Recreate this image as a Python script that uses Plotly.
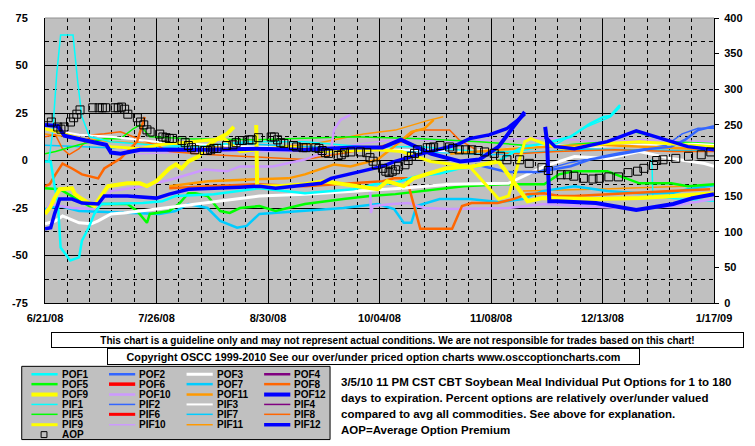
import plotly.graph_objects as go

# ---------------- data ----------------
date_labels = ["6/21/08", "7/26/08", "8/30/08", "10/04/08", "11/08/08", "12/13/08", "1/17/09"]
tick_days = [0, 35, 70, 105, 140, 175, 210]           # days since 6/21/08
left_ticks = [75, 50, 25, 0, -25, -50, -75]
right_ticks = [400, 350, 300, 250, 200, 150, 100, 50, 0]

pof1_days = [0, 1.8, 3, 4, 4.9, 7.9, 10.7, 11.6, 13.7, 15.5, 17.6, 30.7, 36.8, 41, 53, 61.2, 67.3, 81.6, 96.8, 103.5, 109.6, 116.6, 123.9, 130, 136, 142, 146, 150, 156.7, 165, 171, 175.3, 177.4, 180.5]
pof1_vals = [-0.5, -0.5, -13.5, -21.4, -45.8, -52.6, -51, -42.2, -35.4, -28.1, -22.9, -22.4, -21.4, -18.7, -17.7, -16.1, -14.6, -17.2, -15.1, -12.5, -12, -8.3, -6.8, -4.2, -3.1, -0.5, 3.6, 7.3, 8.8, 12.5, 19.3, 22.9, 23.4, 29.2]

pif1_days = [0, 1.2, 2.4, 3.7, 4.9, 8.8, 10.3, 11.6, 14, 20.7, 32.9, 48, 63, 81.5, 100, 118, 136, 148.5, 160.7, 170, 177.5, 180.5, 185, 190.5, 190.8, 197, 210]
pif1_vals = [-0.5, -0.5, 15, 46, 66, 66, 41, 23, 12.5, 9.9, 8.3, 7.3, 9.9, 9.9, 7.3, 7.3, 4.7, 4.7, 8.8, 17.7, 22.9, 28, None, 0.5, -18.7, -20, -21.4]

pof2_days = [135, 145, 155, 165, 171, 179.5, 189.6, 196.6, 201, 205, 210]
pof2_vals = [-2, -6, -6, -3, 0.5, 3, 6, 7.3, 11, 16, 18]
pif2_days = [150, 165, 180, 195, 200, 205, 210]
pif2_vals = [-8, -1, 4, 8, 14, 17, 17]

pof3_days = [0, 3.3, 5.5, 10.7, 14.6, 16.7, 20.7, 24.7, 35, 47.2, 53.3, 61.2, 67.3, 81.6, 96.8, 112, 127.2, 145.5, 156.7, 166.2, 176.5, 186.6, 196.6, 207, 210]
pof3_vals = [-33.3, -31.8, -29.2, -32.8, -33.3, -31.8, -28.1, -27.6, -25.5, -22.9, -21.4, -19.8, -18.7, -17.7, -16.1, -14.6, -12.5, -12, -3.1, 2.1, 1, 4.7, 1, -1.6, -3.1]
pif3_days = [0, 3.3, 5.5, 10.7, 20.7, 35, 51, 66, 81.6, 96.8, 112, 127.2, 142.4, 157.6, 173, 188, 203.3, 210]
pif3_vals = [18.7, 18.7, 15.1, 13.5, 12.5, 9.9, 8.3, 7.3, 6.2, 5.7, 5.7, 4.7, 5.7, 8.3, 7.3, 8.3, 8.8, 8.3]

pof5_days = [0, 4.6, 15.5, 17.6, 25.9, 28.9, 32, 32.9, 35, 39, 42, 45, 47.2, 51, 55, 58, 61.2, 67.3, 72.4, 81.6, 93.7, 102, 110, 119, 131.4, 143.5, 156.7, 161.3, 166.2, 176.5, 180.5, 186.6, 196.6, 201.8, 210]
pof5_vals = [-14.6, -15.1, -25.5, -22.9, -22.9, -26.6, -32.8, -28.1, -27.6, -26.6, -22.9, -17.2, -17.2, -18.7, -26.6, -27.6, -25, -24, -26.6, -22.9, -20.3, -18.7, -17.7, -16.1, -13.5, -12.5, -12.5, -7.3, -5.7, -5.7, -8.3, -12, -12, -13.5, -12.5]
pif5_days = [0, 3.3, 10.7, 18.6, 23.7, 27.7, 29.8, 32.9, 45, 66.3, 96.8, 118, 136.3, 156.1, 176.5, 185, 197.2, 210]
pif5_vals = [3.6, 4.7, 8.3, 11.5, 11.5, 16.7, 18.7, 12.5, 11.5, 10.9, 12.5, 11.5, 9.9, 7.3, 9.9, 15.1, 9.9, 8.8]

pof7_days = [0, 4.6, 10.7, 25.9, 35.9, 41, 45, 51, 55, 60.3, 63.3, 67.3, 81.6, 93.7, 104.4, 109.6, 112.6, 115, 116.6, 123.9, 133.3, 142.4, 150, 156.1, 166.2, 176.5, 186.6, 196.6, 201.8, 210]
pof7_vals = [-25.5, -24, -26.6, -27.6, -28.1, -26.6, -22.9, -25, -31.8, -35.4, -34.4, -28.1, -26.6, -25, -22.9, -25.5, -32.8, -32.8, -24, -20.3, -20.3, -21.9, -20.3, -16.1, -13.5, -16.1, -17.2, -17.2, -15.1, -13]
pif7_days = [0, 30, 60, 100, 140, 170, 210]
pif7_vals = [8, 6, 9, 6, 3, 6, 5]

pof8_days = [0, 1.5, 3.3, 5.5, 8.5, 11.6, 16.7, 18.6, 23.7, 28.9, 31.3, 35, 39, 51, 66.3, 81.6, 106, 109.6, 113.5, 117.8, 127.8, 130.9, 133.9, 142.1, 147, 151.3, 156.7, 161.3, 166.2, 186.6, 196.6, 208.8]
pof8_vals = [-13.5, -12.5, -7.3, -1.6, -4.2, -7.3, -9.4, -4.2, 1, 9.9, 22.9, None, -14.6, -13.5, -12.5, -13.5, -10.9, -9.4, -9.4, -35.9, -35.9, -24, -22.4, -22.4, -20.3, -17.7, -17.2, -18.7, -18.7, -17.2, -16.1, -15.1]
pif8_days = [0, 3.3, 5.5, 7.6, 10.7, 14.6, 18.6, 23.7, 27.7, 35.9, 39, 51.1, 69.4, 81.6, 96.8, 112, 116.6, 127, 130, 136.3, 148.5, 160.7, 179, 197.2, 210]
pif8_vals = [12.5, 13.5, 6.2, 3.1, 6.2, 13.5, 14.1, 15.1, 12.5, 7.3, 4.7, 3.1, 1.6, 0.5, 4.7, 9.9, 16.1, 16.1, 10.9, 4.7, 3.6, 4.7, 5.7, 4.7, 4.7]

pof9_days = [0, 1.5, 3, 4.6, 8.5, 9.4, 11.6, 15.5, 17.6, 19.8, 25.9, 29.8, 32, 35, 39, 41.1, 42.9, 45, 48.1, 52, 54.2, 57.2, 59.3, 63, 66.3, 66.6, 73.3, 81.6, 87.6, 93.7, 104.4, 107.4, 112.6, 115.6, 125.7, 133.9, 142.4, 151.5, 156.1, 172.9, 186.6, 197.2, 210]
pof9_vals = [-28.1, -25, -19.8, -15.1, -14.6, -17.7, -20.3, -24, -18.7, -13.5, -12, -12, -13.5, -10.9, -4.2, -2.1, -4.2, -0.5, 2.1, 8.9, 11.5, 14.1, 17.7, None, 18.7, -13.5, -13.5, -12.5, -10.9, -12.5, -15.1, -10.9, -13.5, -9.4, -4.2, -3.1, -0.5, -21.4, -19.8, -20.3, -19.8, -18.7, -17.2]
pif9_days = [0, 5.5, 14.6, 20.7, 29.8, 35.9, 52.7, 56.3, 61.2, 76.4, 86.7, 104.4, 112, 121.1, 133.3, 142.4, 145.5, 150.6, 152.5, 157.6, 162.8, 176.5, 186.6, 203.3, 210]
pif9_vals = [16.7, 14.1, 9.9, 7.3, 6.2, 8.3, 10.9, 11.5, 4.7, 7.3, 4.7, 5.7, 4.7, -0.5, -3.1, -20.3, -18.7, 9.9, 11.5, 8.3, 6.2, 8.9, 9.9, 8.3, 7.3]

pof10_days = [0, 1.5, 4.6, 8.5, 15.5, 20.7, 30.7, 39.9, 50.2, 57.2, 61.2, 71.5, 81.6, 89.8, 90.7, 92.8, 95.9, 99, 102, 102.3, 102.9, 109, 114.1, 119, 127.2, 145.5, 156.7, 172.9, 186.6, 196.6, 210]
pof10_vals = [-28.1, -22.9, -24, -25, -25.5, -16.1, -13.5, -9.9, -4.7, -5.7, -3.1, -3.1, 0.5, 5.7, 16.1, 21.4, 24, None, -10.9, -27.6, -24, -22.9, -22.4, -25, -25.5, -25, -22.9, -24.5, -25.5, -24, -20.3]
pif10_days = [0, 5.5, 14.6, 29.8, 51.1, 81.6, 100, 112, 127.2, 142.4, 157.6, 173, 188, 210]
pif10_vals = [12.5, 16.1, 9.9, 3.6, 4.7, 4.7, 8.9, 11.5, 9.9, 10.9, 12, 9.9, 10.9, 9.9]

pof11_days = [39, 51.1, 66.3, 76.4, 81.6, 90.7, 95.9, 104.4, 109.6, 115, 119, 122, 125, 127.2, 142.4, 157.6, 172.9, 188, 203.3, 210]
pof11_vals = [-13.5, -10.9, -9.9, -9.4, -7.3, -2.1, -3.1, 0.5, 7.3, 15.1, 16.7, 21.4, None, 3.6, 5.7, 7.3, 8.3, 7.3, 6.2, 6.2]
pif11_days = [0, 20, 45, 66, 85, 100, 110, 120, 125, 135, 150, 175, 210]
pif11_vals = [14, 10, 8, 6, 9, 14, 16, 21, 23, None, -16, -15, -13]

pof12_days = [0, 4, 6.1, 8.5, 14.6, 19.2, 20.7, 23.7, 29.8, 51.1, 66.3, 81.6, 96.8, 105.9, 111.7, 121.1, 130.3, 136.3, 142.4, 147, 150.6, 154, 157, 157.6, 158.3, 160.7, 172.9, 182, 185.6, 197.2, 203.3, 210]
pof12_vals = [18.7, 18.2, 13, 12, 9.9, 8.3, 4.2, 3.6, 5.7, 5.7, 6.2, 5.7, 6.8, 6.8, 10.9, 3.6, -0.5, 0.5, 7.3, 17.7, 25.5, None, 17.7, 9.9, -21.4, -21.4, -22.4, -25, -26, -22.9, -19.8, -17.7]
pif12_days = [0, 1.8, 3, 4.6, 8.5, 11.6, 16.7, 18.6, 25.9, 35, 39, 45, 61.2, 67.3, 72.4, 86.7, 89.8, 99.8, 105.9, 109.9, 117.2, 129.3, 133.3, 139.4, 144.9, 148.5, 150.6, 154, 157, 160.1, 166.2, 176.5, 185.6, 191.7, 201.8, 210]
pif12_vals = [-35.9, -35.4, -28.1, -20.3, -20.3, -22.4, -22.9, -18.7, -18.7, -19.8, -17.7, -15.1, -14.1, -13.5, -14.6, -12, -9.4, -5.7, -3.1, -0.5, 3.1, 8.3, 11.5, 13.5, 16.7, 21.4, 24.5, None, 12.5, 7.3, 6.2, 9.9, 15.6, 12.5, 7.3, 5.7]

aop_days = [1, 2, 4, 5, 6, 8, 9, 10, 11, 15, 17, 18, 19, 22, 23, 24, 25, 26, 29, 30, 31, 32, 33, 36, 37, 38, 39, 40, 43, 44, 45, 46, 47, 50, 51, 52, 53, 54, 57, 59, 60, 61, 62, 64, 65, 67, 71, 72, 73, 74, 75, 78, 79, 81, 82, 85, 86, 87, 88, 89, 92, 93, 94, 96, 99, 101, 102, 103, 104, 106, 107, 108, 109, 110, 111, 113, 114, 115, 116, 117, 120, 121, 122, 124, 127, 128, 130, 132, 134, 136, 138, 141, 143, 145, 149, 152, 156, 158, 162, 164, 166, 169, 172, 174, 177, 180, 183, 186, 188, 191, 192, 194, 198, 202, 206, 209]
aop_vals = [260, 254, 247, 244, 247, 254, 260, 265, 271, 274, 274, 274, 274, 274, 274, 275, 272, 265, 260, 254, 250, 243, 240, 237, 233, 232, 231, 231, 228, 225, 221, 218, 215, 214, 214, 215, 217, 217, 221, 222, 225, 228, 228, 229, 229, 232, 233, 233, 229, 225, 224, 221, 219, 218, 218, 218, 217, 214, 211, 210, 207, 208, 211, 212, 212, 211, 204, 199, 194, 189, 185, 183, 185, 187, 192, 194, 200, 206, 210, 215, 218, 218, 219, 221, 219, 217, 215, 215, 215, 214, 212, 210, 206, 201, 201, 196, 190, 186, 180, 180, 178, 175, 174, 175, 177, 177, 183, 185, 189, 193, 200, 201, 203, 206, 208, 212]

desc_lines = [
    "3/5/10 11 PM CST CBT Soybean Meal Individual Put Options for 1 to 180",
    "days to expiration. Percent options are relatively over/under valued",
    "compared to avg all commodities. See above for explanation.",
    "AOP=Average Option Premium",
]
note1 = "This chart is a guideline only and may not represent actual conditions. We are not responsible for trades based on this chart!"
note2 = "Copyright OSCC 1999-2010 See our over/under priced option charts www.osccoptioncharts.com"

legend_rows = [
    ["POF1", "POF2", "POF3", "POF4"],
    ["POF5", "POF6", "POF7", "POF8"],
    ["POF9", "POF10", "POF11", "POF12"],
    ["PIF1", "PIF2", "PIF3", "PIF4"],
    ["PIF5", "PIF6", "PIF7", "PIF8"],
    ["PIF9", "PIF10", "PIF11", "PIF12"],
]

# ---------------- styles ----------------
base_colors = ["#00FFFF", "#3366FF", "#FFFFFF", "#800080", "#00FF00", "#FF0000",
               "#00CCFF", "#FF6600", "#FFFF00", "#CC99FF", "#FF9900", "#0000FF"]
pof_w = [2.5, 2.5, 3, 2.5, 2.5, 3.5, 2.5, 2.5, 4, 2.5, 2.5, 4]
pif_w = [1.5, 1.5, 2, 1.5, 1.5, 3, 1.5, 1.5, 3, 1.5, 1.5, 3.5]
style = {}
for i in range(12):
    style[f"POF{i+1}"] = (base_colors[i], pof_w[i])
    style[f"PIF{i+1}"] = (base_colors[i], pif_w[i])

series = [
    ("PIF7", pif7_days, pif7_vals), ("PIF10", pif10_days, pif10_vals),
    ("PIF11", pif11_days, pif11_vals), ("PIF8", pif8_days, pif8_vals),
    ("PIF5", pif5_days, pif5_vals), ("PIF3", pif3_days, pif3_vals),
    ("PIF2", pif2_days, pif2_vals), ("PIF1", pif1_days, pif1_vals),
    ("POF7", pof7_days, pof7_vals), ("POF5", pof5_days, pof5_vals),
    ("POF10", pof10_days, pof10_vals), ("POF11", pof11_days, pof11_vals),
    ("POF8", pof8_days, pof8_vals), ("POF3", pof3_days, pof3_vals),
    ("POF2", pof2_days, pof2_vals), ("POF1", pof1_days, pof1_vals),
    ("PIF9", pif9_days, pif9_vals), ("POF9", pof9_days, pof9_vals),
    ("PIF12", pif12_days, pif12_vals), ("POF12", pof12_days, pof12_vals),
]

# ---------------- geometry helpers ----------------
W, H = 755, 446
PL, PR, PT, PB = 32, 722, 15, 303

def fx(x):
    return (x - PL) / (PR - PL)

def fy(y):
    return (PB - y) / (PB - PT)

FONT = "Liberation Sans, Arial, sans-serif"

fig = go.Figure()
for name, d, v in series:
    c, w = style[name]
    fig.add_trace(go.Scatter(x=d, y=v, mode="lines", name=name,
                             line=dict(color=c, width=w), connectgaps=False,
                             showlegend=False, yaxis="y"))

fig.add_trace(go.Scatter(x=aop_days, y=aop_vals, mode="markers", name="AOP",
                         marker=dict(symbol="square-open", size=8, color="black",
                                     line=dict(width=1, color="black")),
                         showlegend=False, yaxis="y2"))

tickfont = dict(family=FONT, size=11, color="black", weight="bold")

fig.update_layout(
    width=W, height=H,
    margin=dict(l=PL, r=W - PR, t=PT, b=H - PB, pad=0),
    paper_bgcolor="white", plot_bgcolor="#C0C0C0",
    showlegend=False,
    xaxis=dict(range=[0, 210], tickvals=tick_days, ticktext=date_labels,
               showgrid=True, gridcolor="black", gridwidth=1,
               minor=dict(tick0=0, dtick=7, showgrid=True, gridcolor="black",
                          griddash="4px,4px", gridwidth=1),
               showline=True, linecolor="black", linewidth=1, ticks="",
               zeroline=False, tickfont=tickfont, ticklabelstandoff=5),
    yaxis=dict(range=[-75, 75], tickvals=left_ticks,
               ticktext=[str(t) for t in left_ticks],
               showgrid=True, gridcolor="black", gridwidth=1,
               minor=dict(tick0=0, dtick=12.5, showgrid=True, gridcolor="black",
                          griddash="4px,4px", gridwidth=1),
               showline=True, linecolor="black", linewidth=1, ticks="",
               zeroline=False, tickfont=tickfont, ticklabelstandoff=14),
    yaxis2=dict(range=[0, 400], tickvals=right_ticks, overlaying="y", side="right",
                showgrid=False, zeroline=False, showline=True, linecolor="black",
                linewidth=1, ticks="outside", ticklen=4, tickcolor="black",
                tickfont=tickfont, ticklabelstandoff=3),
)

shapes = []
annotations = []

# top border (lighter)
shapes.append(dict(type="line", xref="paper", yref="paper", x0=0, x1=1, y0=1, y1=1,
                   line=dict(color="#909090", width=1)))

# note boxes
annotations.append(dict(xref="paper", yref="paper", x=fx((49 + 742) / 2), y=fy(340.5),
                        xanchor="center", yanchor="middle", showarrow=False,
                        text=f"<b>{note1}</b>", width=689, height=12, borderpad=1,
                        bordercolor="black", borderwidth=1, bgcolor="white",
                        font=dict(family=FONT, size=10, color="black")))
annotations.append(dict(xref="paper", yref="paper", x=fx((104 + 637) / 2), y=fy(357.5),
                        xanchor="center", yanchor="middle", showarrow=False,
                        text=f"<b>{note2}</b>", width=529, height=13, borderpad=1,
                        bordercolor="black", borderwidth=1, bgcolor="white",
                        font=dict(family=FONT, size=10.8, color="black")))

# legend box
shapes.append(dict(type="rect", xref="paper", yref="paper",
                   x0=fx(8), x1=fx(326), y0=fy(367), y1=fy(441),
                   fillcolor="#C0C0C0", line=dict(color="black", width=1), layer="above"))
col_x = [18, 98, 178, 258]
row_y = [375, 385, 395.5, 405.5, 415.5, 426, 436]
for r, row in enumerate(legend_rows):
    for c, name in enumerate(row):
        colr, w = style[name]
        shapes.append(dict(type="line", xref="paper", yref="paper",
                           x0=fx(col_x[c]), x1=fx(col_x[c] + 27),
                           y0=fy(row_y[r]), y1=fy(row_y[r]),
                           line=dict(color=colr, width=w), layer="above"))
        annotations.append(dict(xref="paper", yref="paper", x=fx(col_x[c] + 29),
                                y=fy(row_y[r]), xanchor="left", yanchor="middle",
                                showarrow=False, text=f"<b>{name}</b>",
                                font=dict(family=FONT, size=10, color="black")))
shapes.append(dict(type="rect", xref="paper", yref="paper",
                   x0=fx(28), x1=fx(34), y0=fy(433), y1=fy(439),
                   line=dict(color="black", width=1), fillcolor="rgba(0,0,0,0)",
                   layer="above"))
annotations.append(dict(xref="paper", yref="paper", x=fx(47), y=fy(row_y[6]),
                        xanchor="left", yanchor="middle", showarrow=False,
                        text="<b>AOP</b>", font=dict(family=FONT, size=10, color="black")))

# description text
for i, line in enumerate(desc_lines):
    annotations.append(dict(xref="paper", yref="paper", x=fx(335), y=fy(383 + 16 * i),
                            xanchor="left", yanchor="middle", showarrow=False,
                            text=f"<b>{line}</b>",
                            font=dict(family=FONT, size=11.5, color="black")))

fig.update_layout(shapes=shapes, annotations=annotations)
fig.write_html(
    "out.html",
    config={"displayModeBar": False},
    post_script="document.body.style.margin='0';document.body.style.padding='0';"
                "document.body.style.overflow='hidden';",
)
